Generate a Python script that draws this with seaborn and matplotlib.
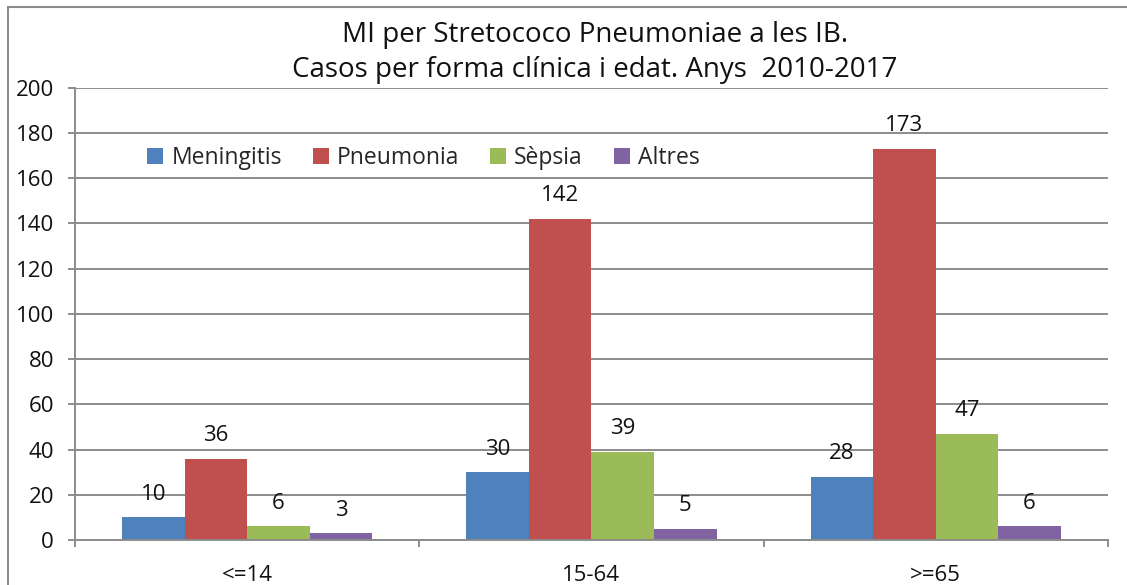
import numpy as np
import pandas as pd
import matplotlib.pyplot as plt
import seaborn as sns
from matplotlib.patches import Rectangle
from matplotlib.ticker import FixedLocator

edats = ['<=14', '15-64', '>=65']
formes = ['Meningitis', 'Pneumonia', 'Sèpsia', 'Altres']
meningitis = [10, 30, 28]
pneumonia = [36, 142, 173]
sepsia = [6, 39, 47]
altres = [3, 5, 6]
colors = ['#4F81BD', '#C0504D', '#9BBB59', '#8064A2']

df = pd.DataFrame({
    'edat': edats * 4,
    'forma': np.repeat(formes, len(edats)),
    'casos': meningitis + pneumonia + sepsia + altres,
})

sns.set_style('white')
plt.rcParams['font.family'] = ['Open Sans', 'DejaVu Sans']
grey = '#8c8c8c'
txt = '#111111'

fig = plt.figure(figsize=(11.27, 5.85), dpi=100)
ax = fig.add_axes([0.0665, 0.077, 0.9165, 0.773])

sns.barplot(data=df, x='edat', y='casos', hue='forma', palette=colors,
            width=0.727, saturation=1, linewidth=0, ax=ax)

for cont in ax.containers:
    ax.bar_label(cont, padding=9, fontsize=16, color=txt)

ax.set_ylim(0, 200)
ax.set_xlim(-0.5, 2.5)
ax.set_yticks(range(0, 201, 20))
ax.yaxis.grid(True, color=grey, linewidth=1.4)
ax.set_axisbelow(True)
ax.set_xlabel('')
ax.set_ylabel('')

for s in ['top', 'right']:
    ax.spines[s].set_visible(False)
for s in ['left', 'bottom']:
    ax.spines[s].set_color(grey)
    ax.spines[s].set_linewidth(1.4)

ax.tick_params(axis='y', length=5, width=1.4, color=grey, pad=10,
               labelsize=16, labelcolor=txt, left=True)
ax.tick_params(axis='x', which='major', length=0, pad=18,
               labelsize=16, labelcolor=txt)
ax.xaxis.set_minor_locator(FixedLocator([-0.5, 0.5, 1.5, 2.5]))
ax.tick_params(axis='x', which='minor', length=5, width=1.4, color=grey,
               bottom=True)

ax.legend(loc='center left', bbox_to_anchor=(0.07, 0.845), ncol=4,
          frameon=False, fontsize=16.5, handlelength=0.7, handleheight=0.7,
          handletextpad=0.35, columnspacing=1.35, borderaxespad=0, borderpad=0)

fig.text(0.528, 1 - 35 / 585, 'MI per Stretococo Pneumoniae a les IB.',
         ha='center', va='center', fontsize=20, color=txt)
fig.text(0.528, 1 - 70 / 585, 'Casos per forma clínica i edat. Anys  2010-2017',
         ha='center', va='center', fontsize=20, color=txt)

fig.add_artist(Rectangle((0.007, -0.1), 1.1, 1.088, transform=fig.transFigure,
                         fill=False, edgecolor=grey, linewidth=1.5))

fig.savefig('out.png', dpi=100)
